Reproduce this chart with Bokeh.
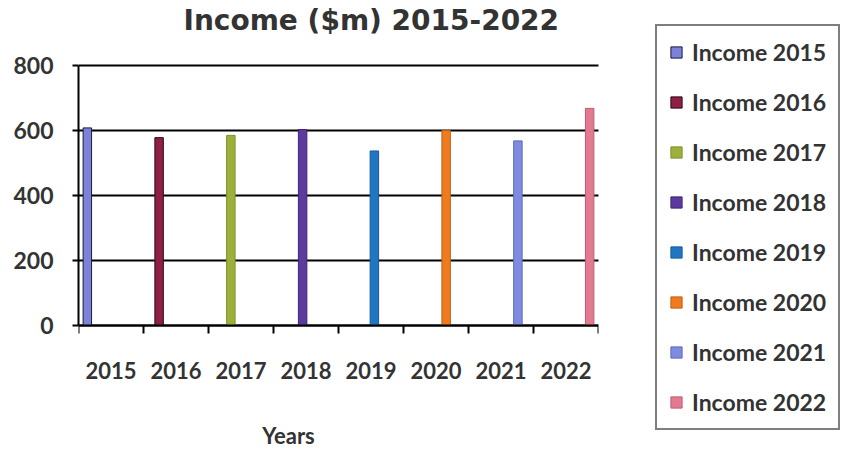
from bokeh.plotting import figure
from bokeh.models import (Range1d, FixedTicker, Legend, LegendItem, Label, BoxAnnotation,
                          ColumnDataSource)
from bokeh.transform import dodge
from bokeh.embed import file_html
from bokeh.resources import INLINE

years = ["2015", "2016", "2017", "2018", "2019", "2020", "2021", "2022"]
series = ["Income 2015", "Income 2016", "Income 2017", "Income 2018",
          "Income 2019", "Income 2020", "Income 2021", "Income 2022"]
income = [608, 578, 585, 603, 537, 600, 568, 668]
colors = ["#7c82d8", "#8e1f45", "#9bb13a", "#5b3b9e", "#1f77c4", "#f07a1e", "#7f8be0", "#e47a92"]
edges = ["#1a1a40", "#2a0a15", "#7d8f2a", "#3d2570", "#155a96", "#c05e10", "#5d68b8", "#c05a72"]
y_ticks = [0, 200, 400, 600, 800]
title_text = "Income ($m) 2015-2022"
x_title = "Years"

TXT = "#333333"
n = len(years)
centers = [i + 0.5 for i in range(n)]
edges_x = list(range(n + 1))

# layout geometry (pixels); the frame covers the canvas right of the y axis
W, H = 844, 450
LEFT, TOP = 78, 0
PLOT_RIGHT_PX = 598
Y0_PX, YMAX_PX = 325, 65
ymax = y_ticks[-1]
xppu = (PLOT_RIGHT_PX - LEFT) / n
yppu = (Y0_PX - YMAX_PX) / ymax
x_end = n + (W - PLOT_RIGHT_PX) / xppu
y_start = -(H - Y0_PX) / yppu
y_end = ymax + (YMAX_PX - TOP) / yppu


def px_to_x(px):
    return (px - LEFT) / xppu


def px_to_y(py):
    return (Y0_PX - py) / yppu


p = figure(width=W, height=H, x_range=Range1d(0, x_end), y_range=Range1d(y_start, y_end),
           output_backend="svg", toolbar_location=None,
           min_border_left=LEFT, min_border_right=0, min_border_top=TOP, min_border_bottom=0)
p.outline_line_color = None
p.background_fill_color = "white"

# y axis
p.yaxis.ticker = FixedTicker(ticks=y_ticks)
p.yaxis.bounds = (0, ymax)
p.yaxis.minor_tick_line_color = None
p.yaxis.major_tick_in = 0
p.yaxis.major_tick_out = 6
p.yaxis.major_tick_line_width = 2
p.yaxis.axis_line_width = 2
p.yaxis.axis_line_color = "black"
p.yaxis.major_tick_line_color = "black"
p.yaxis.major_label_standoff = 19
p.yaxis.major_label_text_font = "Lato"
p.yaxis.major_label_text_font_style = "bold"
p.yaxis.major_label_text_font_size = "23px"
p.yaxis.major_label_text_color = TXT

p.ygrid.ticker = FixedTicker(ticks=y_ticks)
p.ygrid.grid_line_color = "black"
p.ygrid.grid_line_width = 2
p.xgrid.visible = False

# x axis at y = 0: labels at category centres, tick marks at category boundaries
xa = p.xaxis[0]
xa.fixed_location = 0
xa.bounds = (0, n)
xa.ticker = FixedTicker(ticks=centers, minor_ticks=edges_x)
xa.major_label_overrides = {c: y for c, y in zip(centers, years)}
xa.major_tick_line_color = None
xa.major_tick_in = 0
xa.major_tick_out = 0
xa.minor_tick_in = 0
xa.minor_tick_out = 8
xa.minor_tick_line_width = 2
xa.minor_tick_line_color = "black"
xa.axis_line_width = 2
xa.axis_line_color = "black"
xa.major_label_standoff = 28
xa.major_label_text_font = "Lato"
xa.major_label_text_font_style = "bold"
xa.major_label_text_font_size = "22px"
xa.major_label_text_color = TXT

# bars: series i has its only value in year i
items = []
for i in range(n):
    src = ColumnDataSource(dict(x=[centers[i]], top=[income[i]]))
    off = (i - (n - 1) / 2) * 0.104
    r = p.vbar(x=dodge("x", off), top="top", bottom=0, width=0.13, source=src,
               fill_color=colors[i], line_color=edges[i], line_width=1)
    items.append(LegendItem(label=series[i], renderers=[r]))

# keep the grid inside the plot area
p.add_layout(BoxAnnotation(left=n, fill_color="white", fill_alpha=1, line_color=None))

# chart title
p.add_layout(Label(x=px_to_x(183), y=px_to_y(20), text=title_text,
                   text_align="left", text_baseline="middle",
                   text_font="DejaVu Sans", text_font_style="bold", text_font_size="28px",
                   text_color=TXT))

# x axis title
p.add_layout(Label(x=px_to_x(288), y=px_to_y(435), text=x_title,
                   text_align="center", text_baseline="middle",
                   text_font="Lato", text_font_style="bold", text_font_size="22px",
                   text_color=TXT))

legend = Legend(items=items, location=(655 - LEFT, H - 430),
                label_text_font="Lato", label_text_font_style="bold",
                label_text_font_size="23px", label_text_color=TXT,
                glyph_width=14, glyph_height=14, label_height=22, label_standoff=9,
                spacing=22, padding=12, margin=0,
                border_line_color="black", border_line_width=2,
                background_fill_color="white", background_fill_alpha=1)
p.add_layout(legend)

open("out.html", "w").write(file_html(p, INLINE))
